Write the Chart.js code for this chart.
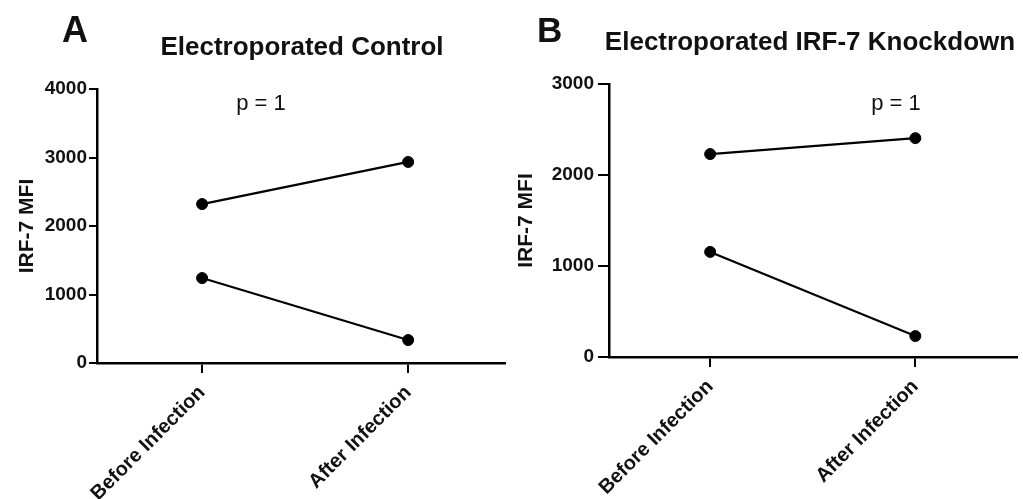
<!DOCTYPE html>
<html><head><meta charset="utf-8">
<script src="https://cdn.jsdelivr.net/npm/chart.js@4"></script>
<style>
html,body{margin:0;padding:0;background:#fff;width:1023px;height:499px;overflow:hidden}
.p{position:absolute;top:0;height:499px}
#pa{left:0;width:512px}
#pb{left:512px;width:511px}
</style></head><body>
<div class="p" id="pa"><canvas id="ca"></canvas></div>
<div class="p" id="pb"><canvas id="cb"></canvas></div>
<script>
// ---- data ----
const categories = ['Before Infection', 'After Infection'];
const controlDonor1 = [2320, 2935];
const controlDonor2 = [1240, 335];
const knockdownDonor1 = [2230, 2405];
const knockdownDonor2 = [1155, 230];
const controlYTicks = [0, 1000, 2000, 3000, 4000];
const knockdownYTicks = [0, 1000, 2000, 3000];
const panelTitles = ['Electroporated Control', 'Electroporated IRF-7 Knockdown'];
const panelLetters = ['A', 'B'];
const pValues = ['p = 1', 'p = 1'];
const yAxisTitle = 'IRF-7 MFI';

const FAM = '"Liberation Sans", Arial, sans-serif';
const INK = '#111';

const annot = {
  id: 'annot',
  afterDraw(chart, args, o) {
    const ctx = chart.ctx;
    ctx.save();
    ctx.fillStyle = INK;
    ctx.textBaseline = 'alphabetic';
    for (const t of o.texts) {
      ctx.font = t.font;
      ctx.textAlign = t.align;
      ctx.fillText(t.text, t.x, t.y);
    }
    ctx.restore();
  }
};

function pts(arr) { return arr.map((v, i) => ({ x: i, y: v })); }

function ds(arr) {
  return {
    data: pts(arr),
    borderColor: '#000',
    backgroundColor: '#000',
    borderWidth: 2.2,
    pointRadius: 5.5,
    pointBackgroundColor: '#000',
    pointBorderColor: '#000',
    pointBorderWidth: 1,
    tension: 0,
    clip: false
  };
}

function makeChart(id, cfg) {
  return new Chart(document.getElementById(id), {
    type: 'line',
    data: { datasets: cfg.series.map(ds) },
    plugins: [annot],
    options: {
      responsive: true,
      maintainAspectRatio: false,
      animation: false,
      layout: { padding: { top: cfg.top, right: cfg.right, bottom: 0, left: 0 } },
      plugins: {
        legend: { display: false },
        tooltip: { enabled: false },
        annot: { texts: cfg.texts }
      },
      scales: {
        x: {
          type: 'linear',
          min: cfg.xmin, max: cfg.xmax,
          afterBuildTicks: s => { s.ticks = categories.map((c, i) => ({ value: i })); },
          afterFit: s => { s.height = cfg.xh; },
          border: { color: '#000', width: 2.5 },
          grid: { drawOnChartArea: false, color: '#000', lineWidth: 2, tickLength: 10 },
          ticks: {
            autoSkip: false, minRotation: 45, maxRotation: 45, padding: 8,
            color: INK, font: { family: FAM, size: 20, weight: 'bold' },
            callback: v => categories[v] ?? ''
          }
        },
        y: {
          min: 0, max: cfg.ymax,
          afterBuildTicks: s => { s.ticks = cfg.yticks.map(v => ({ value: v })); },
          afterFit: s => { s.width = 97; },
          border: { color: '#000', width: 2.5 },
          grid: { drawOnChartArea: false, color: '#000', lineWidth: 2, tickLength: cfg.ytl },
          ticks: {
            padding: cfg.ypad, color: INK,
            font: { family: FAM, size: 19, weight: 'bold' },
            callback: v => String(v)
          },
          title: {
            display: true, text: yAxisTitle, color: INK,
            font: { family: FAM, size: 21, weight: 'bold' },
            padding: { top: cfg.ttop, bottom: 0 }
          }
        }
      }
    }
  });
}

makeChart('ca', {
  series: [controlDonor1, controlDonor2],
  top: 89, right: 7, xmin: -0.51, xmax: 1.47, xh: 136,
  ymax: 4000, yticks: controlYTicks, ytl: 8, ypad: 2, ttop: 15,
  texts: [
    { text: panelLetters[0], x: 62, y: 42, align: 'left', font: 'bold 36px ' + FAM },
    { text: panelTitles[0], x: 302, y: 55, align: 'center', font: 'bold 26px ' + FAM },
    { text: pValues[0], x: 261, y: 110, align: 'center', font: '22px ' + FAM }
  ]
});

makeChart('cb', {
  series: [knockdownDonor1, knockdownDonor2],
  top: 84, right: 3, xmin: -0.493, xmax: 1.493, xh: 142,
  ymax: 3000, yticks: knockdownYTicks, ytl: 11, ypad: 4, ttop: 2,
  texts: [
    { text: panelLetters[1], x: 25, y: 42, align: 'left', font: 'bold 35px ' + FAM },
    { text: panelTitles[1], x: 298, y: 50, align: 'center', font: 'bold 26px ' + FAM },
    { text: pValues[1], x: 384, y: 110, align: 'center', font: '22px ' + FAM }
  ]
});
</script>
</body></html>
